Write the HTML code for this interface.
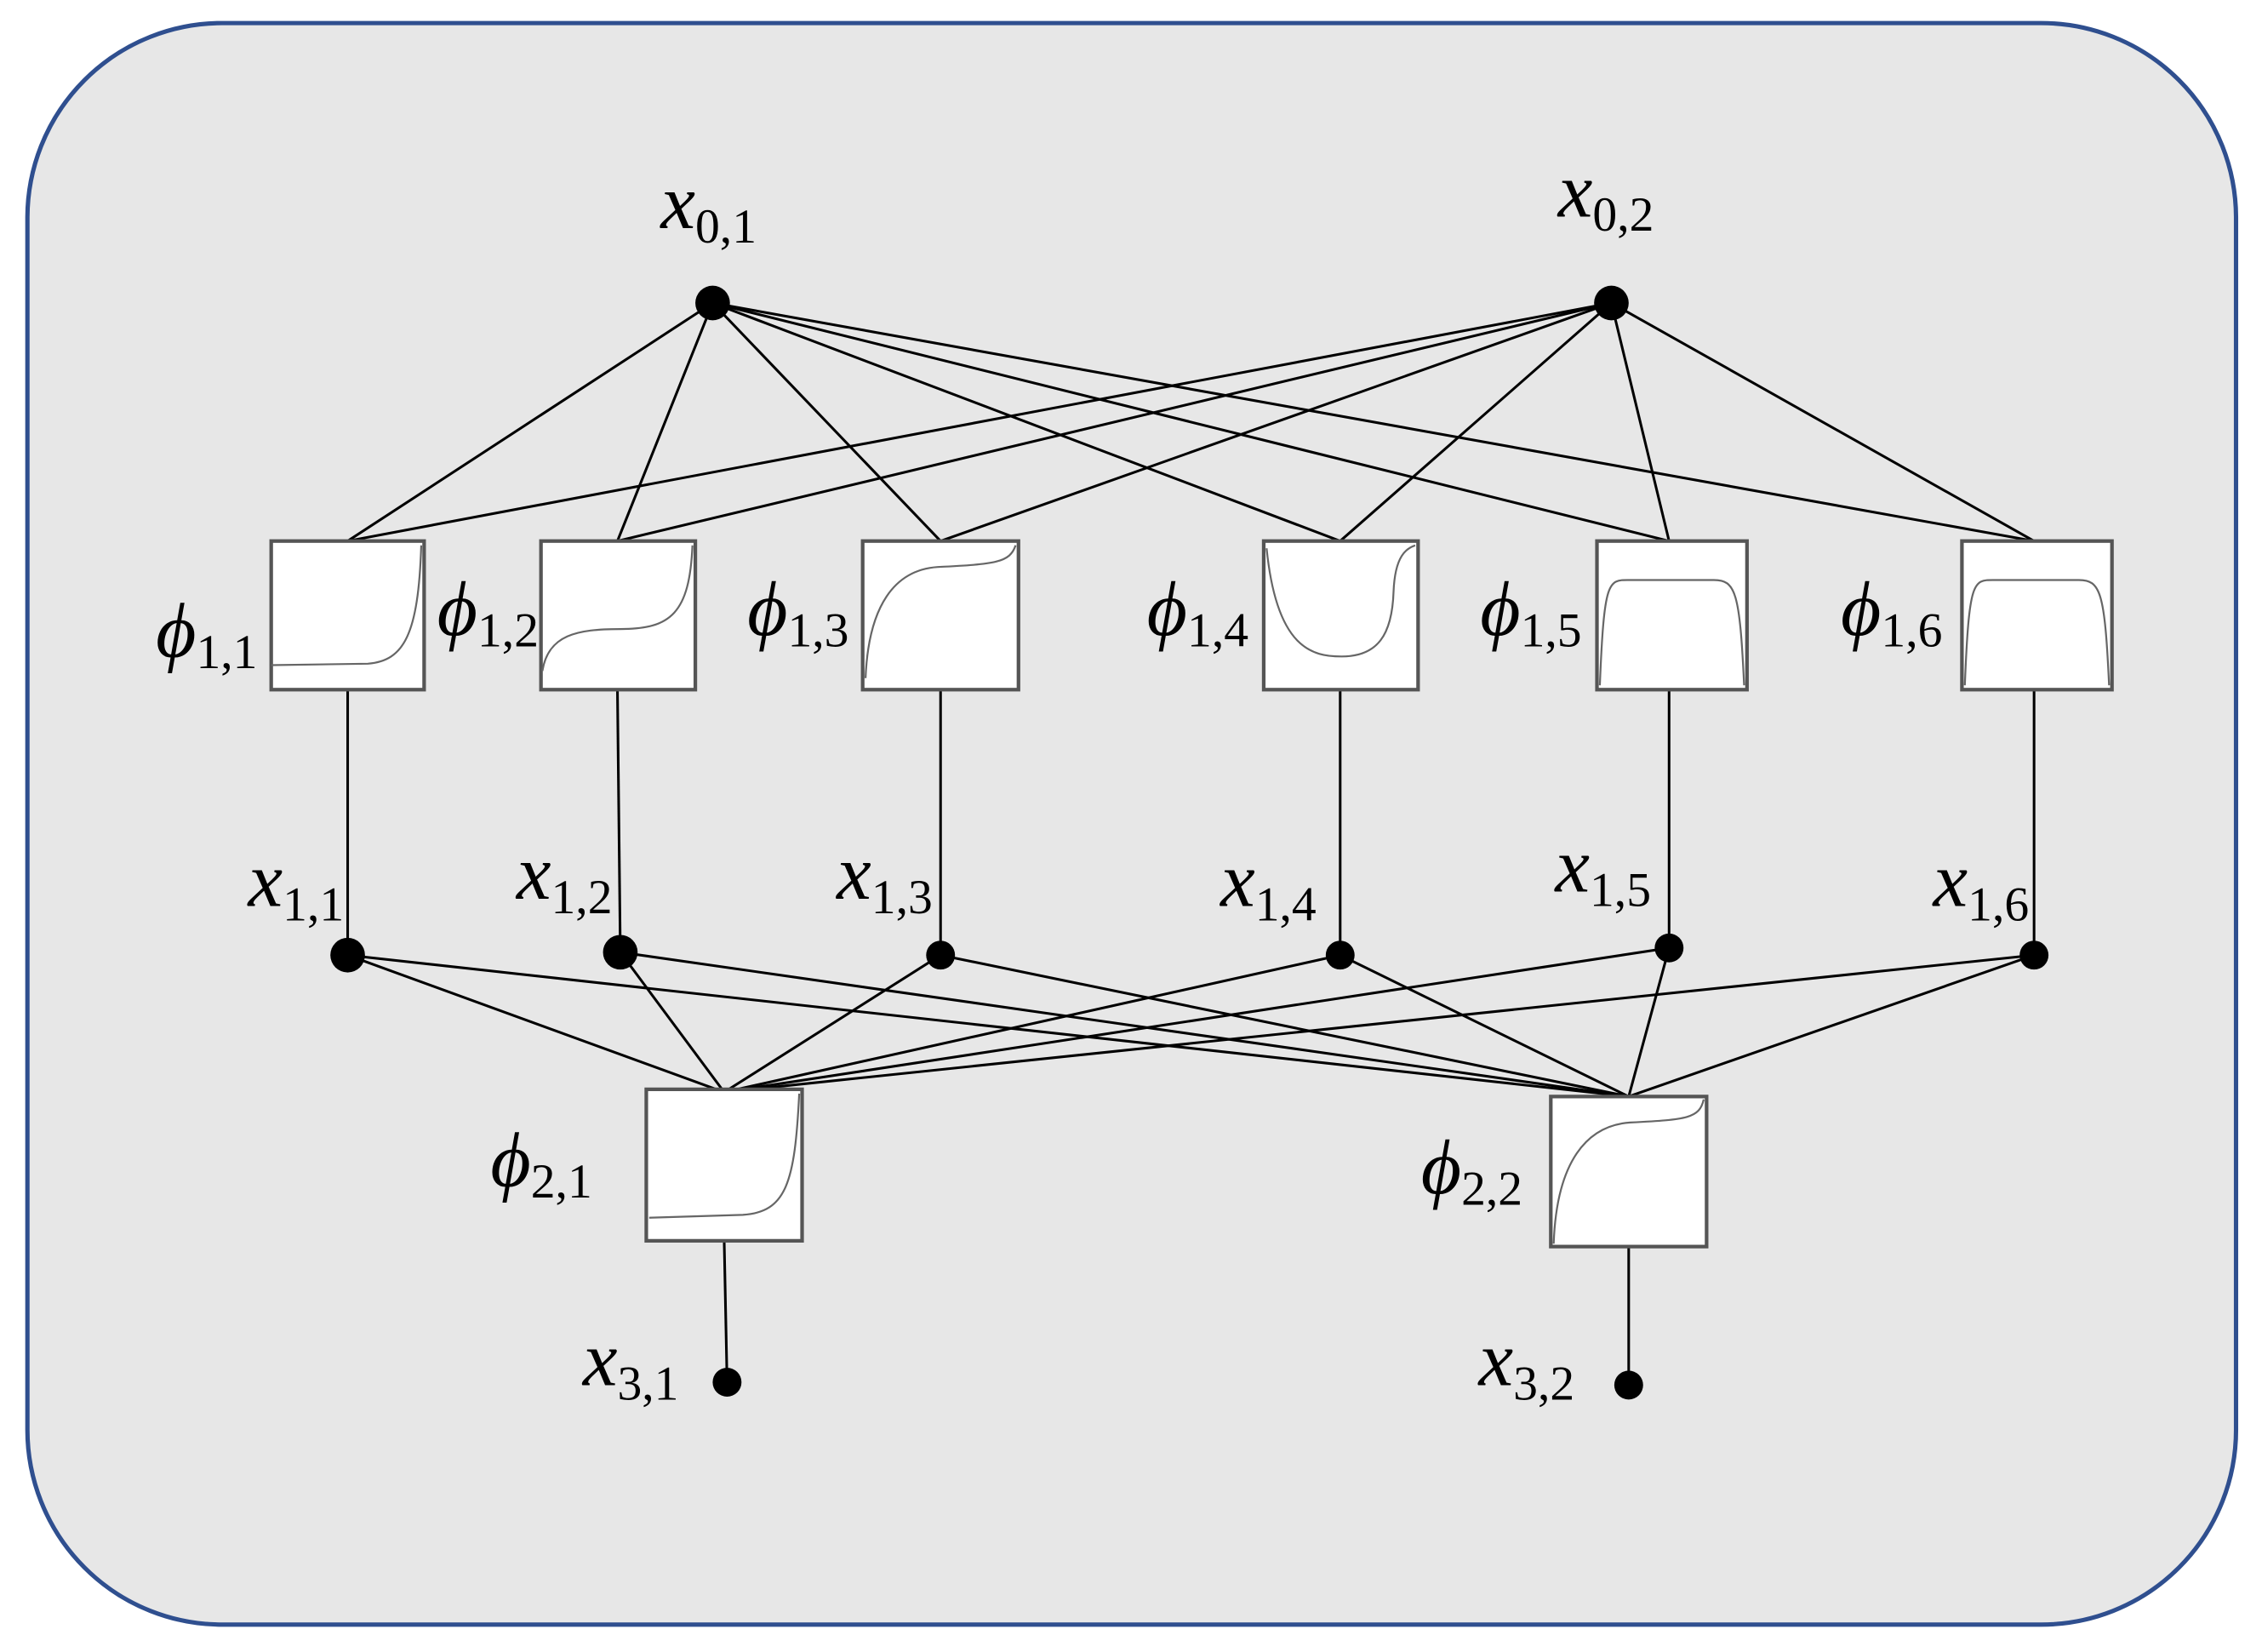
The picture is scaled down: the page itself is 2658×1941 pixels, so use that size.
<!DOCTYPE html>
<html><head><meta charset="utf-8"><style>
html,body{margin:0;padding:0;background:#fff}
svg{display:block}
text,tspan{font-family:"Liberation Serif","Times New Roman",serif !important;font-style:italic;fill:#000}
.s{font-style:normal}
</style></head><body>
<svg width="2658" height="1941" viewBox="0 0 1568 1145" preserveAspectRatio="none" xmlns="http://www.w3.org/2000/svg">
<rect x="19" y="16" width="1531" height="1110" rx="135" ry="135" fill="#e7e7e7" stroke="#2f4f8f" stroke-width="3"/>
<g stroke="#000" stroke-width="1.8" fill="none">
<line x1="494" y1="210" x2="241" y2="375"/><line x1="494" y1="210" x2="428" y2="375"/><line x1="494" y1="210" x2="652" y2="375"/>
<line x1="494" y1="210" x2="929" y2="375"/><line x1="494" y1="210" x2="1157" y2="375"/><line x1="494" y1="210" x2="1410" y2="375"/>
<line x1="1117" y1="210" x2="241" y2="375"/><line x1="1117" y1="210" x2="428" y2="375"/><line x1="1117" y1="210" x2="652" y2="375"/>
<line x1="1117" y1="210" x2="929" y2="375"/><line x1="1117" y1="210" x2="1157" y2="375"/><line x1="1117" y1="210" x2="1410" y2="375"/>
<line x1="241" y1="478" x2="241" y2="662"/><line x1="428" y1="478" x2="430" y2="660"/><line x1="652" y1="478" x2="652" y2="662"/>
<line x1="929" y1="478" x2="929" y2="662"/><line x1="1157" y1="478" x2="1157" y2="657"/><line x1="1410" y1="478" x2="1410" y2="662"/>
<line x1="241" y1="662" x2="502" y2="757"/><line x1="430" y1="660" x2="502" y2="757"/><line x1="652" y1="662" x2="502" y2="757"/>
<line x1="929" y1="662" x2="502" y2="757"/><line x1="1157" y1="657" x2="502" y2="757"/><line x1="1410" y1="662" x2="502" y2="757"/>
<line x1="241" y1="662" x2="1129" y2="760"/><line x1="430" y1="660" x2="1129" y2="760"/><line x1="652" y1="662" x2="1129" y2="760"/>
<line x1="929" y1="662" x2="1129" y2="760"/><line x1="1157" y1="657" x2="1129" y2="760"/><line x1="1410" y1="662" x2="1129" y2="760"/>
<line x1="502" y1="860" x2="504" y2="958"/><line x1="1129" y1="864" x2="1129" y2="960"/>
</g>
<g fill="#fff" stroke="#555" stroke-width="2.5">
<rect x="188" y="375" width="106" height="103"/><rect x="375" y="375" width="107" height="103"/><rect x="598" y="375" width="108" height="103"/>
<rect x="876" y="375" width="107" height="103"/><rect x="1107" y="375" width="104" height="103"/><rect x="1360" y="375" width="104" height="103"/>
<rect x="448" y="755" width="108" height="105"/><rect x="1075" y="760" width="108" height="104"/>
</g>
<g fill="none" stroke="#666" stroke-width="1.3">
<path d="M188,461 L255,460 C280,458 290,440 292,378"/>
<path d="M376,465 C380,440 400,436 430,436 C465,436 478,425 480,378"/>
<path d="M600,470 C602,420 620,395 650,393 C690,391 700,390 704,378"/>
<path d="M878,380 C885,450 910,455 930,455 C955,455 965,440 966,410 C967,385 975,380 981,378"/>
<path d="M1109,475 C1112,400 1115,402 1130,402 L1188,402 C1203,402 1206,410 1209,475"/>
<path d="M1362,475 C1365,400 1368,402 1383,402 L1441,402 C1456,402 1459,410 1462,475"/>
<path d="M450,844 L515,842 C545,840 551,820 554,758"/>
<path d="M1077,862 C1079,805 1100,780 1130,778 C1170,776 1178,775 1181,762"/>
</g>
<g fill="#000">
<circle cx="494" cy="210" r="12"/><circle cx="1117" cy="210" r="12"/>
<circle cx="241" cy="662" r="12"/><circle cx="430" cy="660" r="12"/><circle cx="652" cy="662" r="10"/>
<circle cx="929" cy="662" r="10"/><circle cx="1157" cy="657" r="10"/><circle cx="1410" cy="662" r="10"/>
<circle cx="504" cy="958" r="10"/><circle cx="1129" cy="960" r="10"/>
</g>
<g font-size="54" font-family="Liberation Serif, serif" font-style="italic">
<text x="458" y="158">x<tspan class="s" font-size="34" dy="10">0,1</tspan></text>
<text x="1080" y="150">x<tspan class="s" font-size="34" dy="10">0,2</tspan></text>
<text x="108" y="455">ϕ<tspan class="s" font-size="34" dy="8">1,1</tspan></text>
<text x="303" y="440">ϕ<tspan class="s" font-size="34" dy="8">1,2</tspan></text>
<text x="518" y="440">ϕ<tspan class="s" font-size="34" dy="8">1,3</tspan></text>
<text x="795" y="440">ϕ<tspan class="s" font-size="34" dy="8">1,4</tspan></text>
<text x="1026" y="440">ϕ<tspan class="s" font-size="34" dy="8">1,5</tspan></text>
<text x="1276" y="440">ϕ<tspan class="s" font-size="34" dy="8">1,6</tspan></text>
<text x="172" y="628">x<tspan class="s" font-size="34" dy="10">1,1</tspan></text>
<text x="358" y="623">x<tspan class="s" font-size="34" dy="10">1,2</tspan></text>
<text x="580" y="623">x<tspan class="s" font-size="34" dy="10">1,3</tspan></text>
<text x="846" y="628">x<tspan class="s" font-size="34" dy="10">1,4</tspan></text>
<text x="1078" y="618">x<tspan class="s" font-size="34" dy="10">1,5</tspan></text>
<text x="1340" y="628">x<tspan class="s" font-size="34" dy="10">1,6</tspan></text>
<text x="340" y="822">ϕ<tspan class="s" font-size="34" dy="8">2,1</tspan></text>
<text x="985" y="827">ϕ<tspan class="s" font-size="34" dy="8">2,2</tspan></text>
<text x="404" y="960">x<tspan class="s" font-size="34" dy="10">3,1</tspan></text>
<text x="1025" y="960">x<tspan class="s" font-size="34" dy="10">3,2</tspan></text>
</g>
</svg>
</body></html>
